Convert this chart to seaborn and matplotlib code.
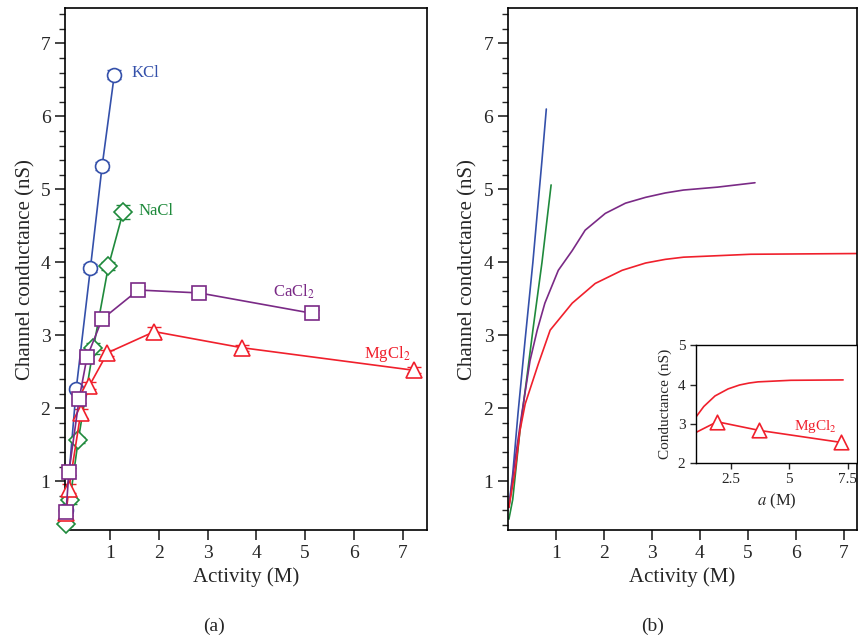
import matplotlib
matplotlib.use("Agg")
import matplotlib.pyplot as plt
from matplotlib.ticker import MultipleLocator
import seaborn as sns

# ---- panel (a): measured conductance ----
kcl_x = [0.10, 0.31, 0.60, 0.84, 1.09]
kcl_y = [0.60, 2.27, 3.92, 5.32, 6.57]
kcl_err = [0.03, 0.04, 0.05, 0.05, 0.06]

nacl_x = [0.10, 0.18, 0.35, 0.66, 0.97, 1.27]
nacl_y = [0.42, 0.74, 1.56, 2.82, 3.95, 4.69]
nacl_err = [0.03, 0.05, 0.04, 0.07, 0.05, 0.10]

cacl2_x = [0.10, 0.16, 0.37, 0.53, 0.84, 1.58, 2.83, 5.15]
cacl2_y = [0.58, 1.13, 2.13, 2.70, 3.22, 3.62, 3.58, 3.30]
cacl2_err = [0.04, 0.05, 0.06, 0.05, 0.05, 0.06, 0.05, 0.05]

mgcl2_x = [0.10, 0.16, 0.40, 0.58, 0.95, 1.91, 3.70, 7.23]
mgcl2_y = [0.56, 0.90, 1.93, 2.31, 2.76, 3.05, 2.83, 2.52]
mgcl2_err = [0.04, 0.06, 0.06, 0.05, 0.04, 0.07, 0.04, 0.04]

# ---- panel (b): model curves ----
kcl_fit_x = [0.02, 0.10, 0.21, 0.36, 0.52, 0.71, 0.80]
kcl_fit_y = [0.66, 1.10, 1.93, 2.95, 4.00, 5.40, 6.10]

nacl_fit_x = [0.02, 0.10, 0.25, 0.40, 0.52, 0.71, 0.90]
nacl_fit_y = [0.48, 0.75, 1.69, 2.45, 3.07, 4.00, 5.06]

cacl2_fit_x = [0.02, 0.15, 0.29, 0.46, 0.61, 0.77, 1.05, 1.34, 1.61, 2.03,
               2.45, 2.87, 3.28, 3.66, 4.37, 5.15]
cacl2_fit_y = [0.64, 1.30, 1.93, 2.65, 3.07, 3.44, 3.89, 4.16, 4.44, 4.67,
               4.81, 4.89, 4.95, 4.99, 5.03, 5.09]

mgcl2_fit_x = [0.02, 0.15, 0.25, 0.36, 0.63, 0.88, 1.34, 1.82, 2.38, 2.87,
               3.28, 3.66, 5.06, 7.30]
mgcl2_fit_y = [0.64, 1.14, 1.69, 2.06, 2.60, 3.07, 3.44, 3.71, 3.89, 3.99,
               4.04, 4.07, 4.11, 4.12]

BLUE = "#3450aa"
GREEN = "#1f8a3c"
PURPLE = "#7a2a86"
RED = "#f0202c"

sns.set_theme(style="ticks")
plt.rcParams["font.family"] = ["Liberation Serif", "DejaVu Serif"]
plt.rcParams["mathtext.fontset"] = "stix"

fig = plt.figure(figsize=(8.58, 6.41), dpi=100)
ax_a = fig.add_axes([0.0758, 0.173, 0.422, 0.814])
ax_b = fig.add_axes([0.592, 0.173, 0.407, 0.814])


def style_axis(ax, xmin, xmax):
    ax.set_xlim(xmin, xmax)
    ax.set_ylim(0.33, 7.48)
    ax.set_xticks(range(1, 8))
    ax.set_yticks(range(1, 8))
    ax.yaxis.set_minor_locator(MultipleLocator(0.2))
    ax.tick_params(axis="both", which="major", direction="out", length=7, width=1.2,
                   labelsize=14, top=False, right=False)
    ax.tick_params(axis="y", which="minor", direction="out", length=4, width=1.0,
                   right=False)
    for sp in ax.spines.values():
        sp.set_linewidth(1.2)
        sp.set_color("black")
    ax.set_xlabel("Activity (M)", fontsize=15)
    ax.set_ylabel("Channel conductance (nS)", fontsize=15)


# drawing order: purple squares end up on top
series_a = [
    (kcl_x, kcl_y, kcl_err, BLUE, "o", 10),
    (nacl_x, nacl_y, nacl_err, GREEN, "D", 9),
    (mgcl2_x, mgcl2_y, mgcl2_err, RED, "^", 11),
    (cacl2_x, cacl2_y, cacl2_err, PURPLE, "s", 10),
]
for xs, ys, err, col, mk, ms in series_a:
    ax_a.errorbar(xs, ys, yerr=err, fmt="none", ecolor=col, elinewidth=1.0,
                  capsize=5, capthick=1.0, zorder=2, clip_on=False)
    sns.lineplot(x=xs, y=ys, ax=ax_a, color=col, lw=1.2, marker=mk, markersize=ms,
                 markerfacecolor="white", markeredgecolor=col, markeredgewidth=1.2,
                 zorder=3, clip_on=False)

style_axis(ax_a, 0.08, 7.5)
ax_a.text(1.44, 6.6, "KCl", color=BLUE, fontsize=12, va="center")
ax_a.text(1.58, 4.7, "NaCl", color=GREEN, fontsize=12, va="center")
ax_a.text(4.35, 3.59, "CaCl$_2$", color=PURPLE, fontsize=12, va="center")
ax_a.text(6.2, 2.75, "MgCl$_2$", color=RED, fontsize=12, va="center")

series_b = [
    (kcl_fit_x, kcl_fit_y, BLUE),
    (nacl_fit_x, nacl_fit_y, GREEN),
    (cacl2_fit_x, cacl2_fit_y, PURPLE),
    (mgcl2_fit_x, mgcl2_fit_y, RED),
]
for xs, ys, col in series_b:
    sns.lineplot(x=xs, y=ys, ax=ax_b, color=col, lw=1.2)

style_axis(ax_b, 0.0, 7.28)

# inset with MgCl2 data and model
ins = fig.add_axes([0.811, 0.278, 0.188, 0.183])
ins_xmin = 1.0
sns.lineplot(x=mgcl2_fit_x, y=mgcl2_fit_y, ax=ins, color=RED, lw=1.2)
sns.lineplot(x=mgcl2_x, y=mgcl2_y, ax=ins, color=RED, lw=1.2)
shown = [(x, y) for x, y in zip(mgcl2_x, mgcl2_y) if x > ins_xmin]
sns.scatterplot(x=[p[0] for p in shown], y=[p[1] for p in shown], ax=ins, marker="^",
                s=110, facecolor="white", edgecolor=RED, linewidth=1.2, zorder=3)
ins.set_xlim(ins_xmin, 7.9)
ins.set_ylim(2, 5)
ins.set_xticks([2.5, 5, 7.5])
ins.set_xticklabels(["2.5", "5", "7.5"])
ins.set_yticks([2, 3, 4, 5])
ins.tick_params(direction="out", length=4, width=1.0, labelsize=11)
for sp in ins.spines.values():
    sp.set_linewidth(1.0)
    sp.set_color("black")
ins.set_xlabel("$a$ (M)", fontsize=12)
ins.set_ylabel("Conductance (nS)", fontsize=11)
ins.text(6.1, 2.93, "MgCl$_2$", color=RED, fontsize=11, ha="center", va="center")

fig.text(0.249, 0.023, "(a)", ha="center", va="center", fontsize=14)
fig.text(0.760, 0.023, "(b)", ha="center", va="center", fontsize=14)

fig.savefig("out.png", dpi=100)
